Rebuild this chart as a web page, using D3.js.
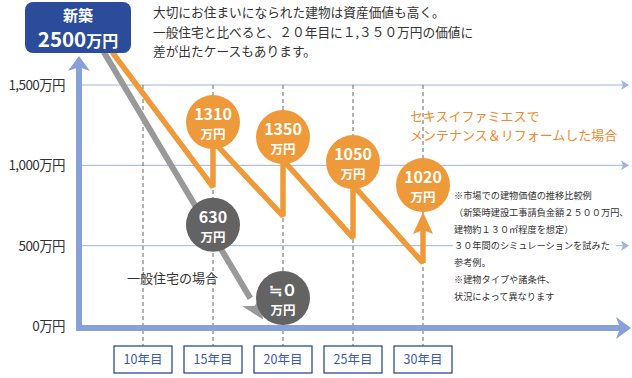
<!DOCTYPE html>
<html>
<head>
  <meta charset="utf-8">
  <title>建物価値の推移</title>
  <script src="https://d3js.org/d3.v7.min.js"></script>
  <style>
    body { margin: 0; overflow: hidden; background: #fff; }
    text { font-family: "Noto Sans CJK JP", "Noto Sans", sans-serif; }
  </style>
</head>
<body>
<svg width="632" height="378"></svg>
<script>
// --- Daten ---
const years = [10, 15, 20, 25, 30];
const yearLabels = ["10年目", "15年目", "20年目", "25年目", "30年目"];
const yTicks = [0, 500, 1000, 1500];
const yTickLabels = ["0万円", "500万円", "1,000万円", "1,500万円"];

// Linie: Sekisui Famis (Wartung & Renovierung)  [Jahr, Wert]
const sekisuiPath = [[7.8, 1705], [15, 865], [15, 1151], [20, 684], [20, 1033],
                     [25, 548], [25, 877], [30, 392]];
const sekisuiArrowTip = [30, 709];
const sekisuiBubbleYears = [15, 20, 25, 30];
const sekisuiBubbleValues = [1269, 1176, 1020, 877];
const sekisuiBubbleLabels = ["1310", "1350", "1050", "1020"];

// Linie: allgemeines Haus
const generalPath = [[7.2, 1705], [18.57, 40]];
const generalBubbleYears = [15, 20];
const generalBubbleValues = [630, 174];
const generalBubbleLabels = ["630", "≒０"];

const introLines = ["大切にお住まいになられた建物は資産価値も高く。",
                    "一般住宅と比べると、２０年目に１,３５０万円の価値に",
                    "差が出たケースもあります。"];
const noteLines = ["※市場での建物価値の推移比較例",
                   "（新築時建設工事請負金額２５００万円、",
                   "建物約１３０㎡程度を想定）",
                   "３０年間のシミュレーションを試みた",
                   "参考例。",
                   "※建物タイプや諸条件、",
                   "状況によって異なります"];

const blue = "#86a2d8", dark = "#2b4c9b", orange = "#ee9a3a", gray = "#999", bubbleGray = "#636363";

const svg = d3.select("svg");
const x = d3.scaleLinear().domain([10, 30]).range([143, 423]);
const y = d3.scaleLinear().domain([0, 1500]).range([326, 85]);
const line = d3.line().x(d => x(d[0])).y(d => y(d[1]));

// Gitterlinien mit kleinen Pfeilen
svg.selectAll(".grid").data(yTicks.slice(1)).join("line")
  .attr("x1", 80).attr("x2", 625)
  .attr("y1", d => y(d)).attr("y2", d => y(d))
  .attr("stroke", "#9fb4e0").attr("stroke-width", 1);
svg.selectAll(".gridarrow").data(yTicks.slice(1)).join("path")
  .attr("d", d => `M621,${y(d)-5} L629,${y(d)} L621,${y(d)+5} L623,${y(d)} Z`)
  .attr("fill", "#9fb4e0");

// gestrichelte Jahreslinien
svg.selectAll(".dash").data(years).join("line")
  .attr("x1", d => x(d)).attr("x2", d => x(d))
  .attr("y1", y(1500)).attr("y2", 346)
  .attr("stroke", "#666").attr("stroke-width", 1).attr("stroke-dasharray", "4,3");

// Jahresboxen
const yb = svg.selectAll(".yb").data(years).join("g")
  .attr("transform", d => `translate(${x(d)},359)`);
yb.append("rect").attr("x", -29).attr("y", -13).attr("width", 58).attr("height", 27)
  .attr("fill", "#fff").attr("stroke", dark).attr("stroke-width", 1.3);
yb.append("text").attr("text-anchor", "middle").attr("dy", 5)
  .attr("font-size", 12.5).attr("fill", "#3a5aa8").text((d, i) => yearLabels[i]);

// Y-Achsenbeschriftung
svg.selectAll(".ylab").data(yTicks).join("text")
  .attr("x", 65).attr("y", d => y(d) + 5).attr("text-anchor", "end")
  .attr("font-size", 13.5).attr("fill", "#333").attr("letter-spacing", -0.6)
  .text((d, i) => yTickLabels[i]);

// Einleitungstext
svg.selectAll(".intro").data(introLines).join("text")
  .attr("x", 153).attr("y", (d, i) => 17 + i * 19.5)
  .attr("font-size", 12.7).attr("fill", "#333").text(d => d);

// Achsen
svg.append("line").attr("x1", 79).attr("x2", 79).attr("y1", 329).attr("y2", 66)
  .attr("stroke", blue).attr("stroke-width", 6);
svg.append("path").attr("d", "M79,56 L90,71 L79,67 L68,71 Z").attr("fill", blue);
svg.append("line").attr("x1", 76).attr("x2", 620).attr("y1", 328).attr("y2", 328)
  .attr("stroke", blue).attr("stroke-width", 6);
svg.append("path").attr("d", "M631,328 L616,317 L620,328 L616,339 Z").attr("fill", blue);

// Allgemeines Haus (grau) mit Pfeil
const g0 = generalPath[0], g1 = generalPath[1];
const ang = Math.atan2(y(g1[1]) - y(g0[1]), x(g1[0]) - x(g0[0]));
const tipX = x(g1[0]), tipY = y(g1[1]);
svg.append("path").datum([g0, [g1[0] - 0.9, g1[1] + 0.9 * 14 * Math.tan(ang) / 0.1607]]).attr("d", line)
  .attr("fill", "none").attr("stroke", gray).attr("stroke-width", 6);
const ah = (l, w) => {
  const bx = tipX - l * Math.cos(ang), by = tipY - l * Math.sin(ang);
  const px = -Math.sin(ang) * w, py = Math.cos(ang) * w;
  const ix = tipX - (l - 6) * Math.cos(ang), iy = tipY - (l - 6) * Math.sin(ang);
  return `M${tipX},${tipY} L${bx + px},${by + py} L${ix},${iy} L${bx - px},${by - py} Z`;
};
svg.append("path").attr("d", ah(22, 11)).attr("fill", gray);

// Sekisui (orange)
svg.append("path").datum(sekisuiPath).attr("d", line)
  .attr("fill", "none").attr("stroke", orange).attr("stroke-width", 5.5)
  .attr("stroke-linejoin", "miter").attr("stroke-miterlimit", 2.2);
const ax = x(sekisuiArrowTip[0]), ayTip = y(sekisuiArrowTip[1]);
svg.append("line").attr("x1", ax).attr("x2", ax)
  .attr("y1", y(sekisuiPath[sekisuiPath.length - 1][1])).attr("y2", ayTip + 18)
  .attr("stroke", orange).attr("stroke-width", 5.5);
svg.append("path")
  .attr("d", `M${ax},${ayTip} L${ax + 10},${ayTip + 22} L${ax},${ayTip + 18} L${ax - 10},${ayTip + 22} Z`)
  .attr("fill", orange);

// Box Neubau
const box = svg.append("g").attr("transform", "translate(25,2)");
box.append("rect").attr("width", 106).attr("height", 51).attr("rx", 8).attr("fill", dark);
box.append("text").attr("x", 53).attr("y", 19).attr("text-anchor", "middle")
  .attr("font-size", 15).attr("font-weight", "bold").attr("fill", "#fff").text("新築");
const bt = box.append("text").attr("x", 53).attr("y", 45).attr("text-anchor", "middle")
  .attr("font-weight", "bold").attr("fill", "#fff");
bt.append("tspan").attr("font-size", 20.5).text("2500");
bt.append("tspan").attr("font-size", 16).text("万円");

// Blasen
function bubbles(ys, vs, labels, fill, cls) {
  const b = svg.selectAll("." + cls).data(ys).join("g")
    .attr("transform", (d, i) => `translate(${x(d)},${y(vs[i])})`);
  b.append("circle").attr("r", 27).attr("fill", fill);
  b.append("text").attr("text-anchor", "middle").attr("y", -2)
    .attr("font-size", 16).attr("font-weight", "bold").attr("fill", "#fff").text((d, i) => labels[i]);
  b.append("text").attr("text-anchor", "middle").attr("y", 17)
    .attr("font-size", 12.5).attr("font-weight", "bold").attr("fill", "#fff").text("万円");
}
bubbles(sekisuiBubbleYears, sekisuiBubbleValues, sekisuiBubbleLabels, orange, "sb");
bubbles(generalBubbleYears, generalBubbleValues, generalBubbleLabels, bubbleGray, "gb");

// Beschriftungen
svg.append("text").attr("x", 127).attr("y", 283).attr("font-size", 13).attr("fill", "#333")
  .text("一般住宅の場合");
svg.selectAll(".olab").data(["セキスイファミエスで", "メンテナンス＆リフォームした場合"]).join("text")
  .attr("x", 410).attr("y", (d, i) => 121 + i * 19)
  .attr("font-size", 13).attr("fill", "#ee8a2a").text(d => d);

// Hinweistext
svg.append("rect").attr("x", 453).attr("y", 238).attr("width", 163).attr("height", 14).attr("fill", "#fff");
svg.selectAll(".note").data(noteLines).join("text")
  .attr("x", 454).attr("y", (d, i) => 199 + i * 16.8)
  .attr("font-size", 9.2).attr("fill", "#333").text(d => d);
</script>
</body>
</html>
